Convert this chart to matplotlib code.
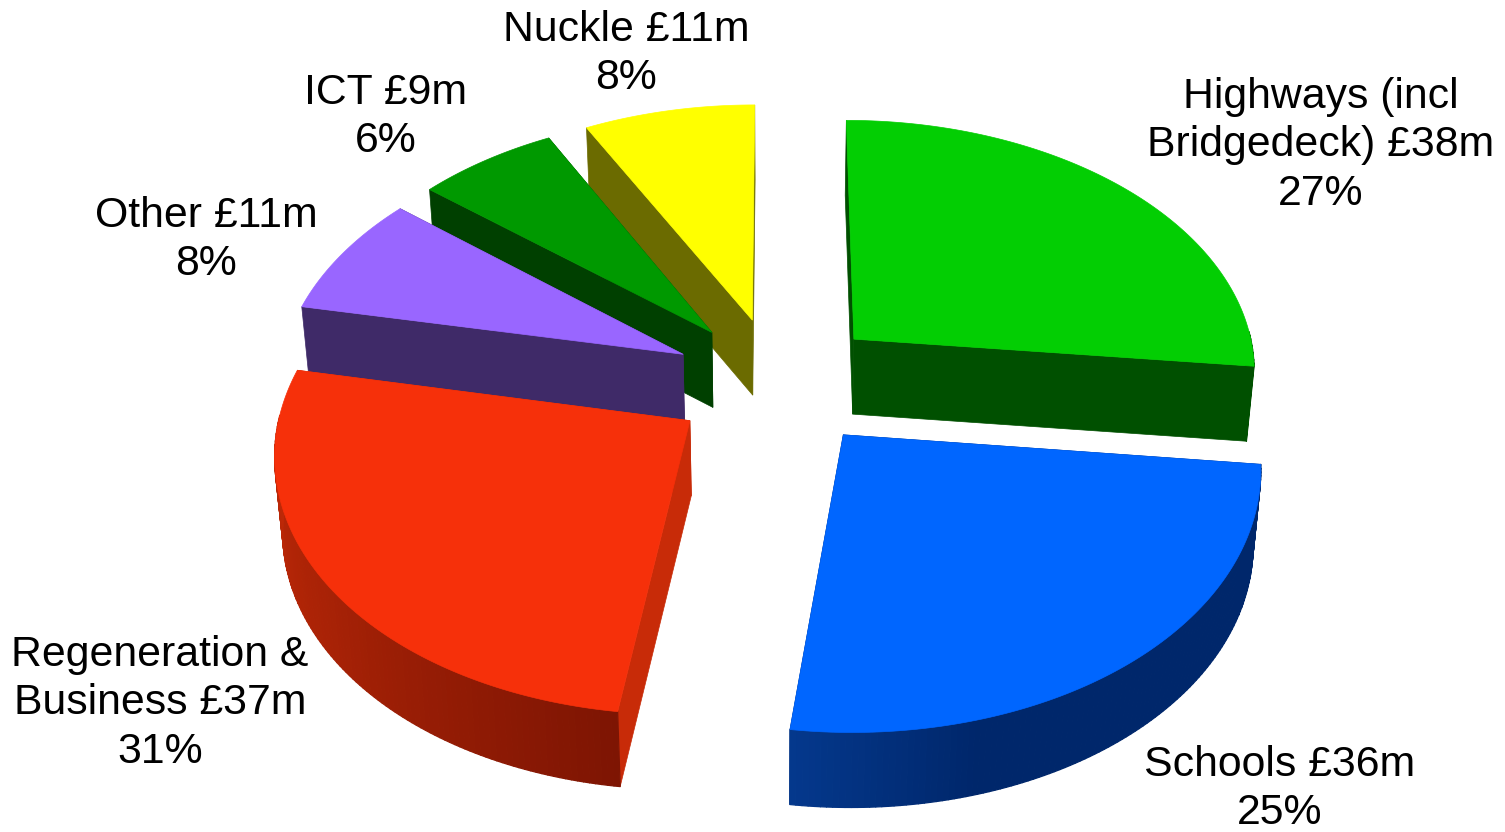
import numpy as np
import matplotlib
matplotlib.use("Agg")
import matplotlib.pyplot as plt
from matplotlib.collections import PolyCollection
from matplotlib.colors import to_rgb
from matplotlib.patches import Polygon

# Capital spend by area, clockwise from twelve o'clock
categories = ["Highways (incl\nBridgedeck)", "Schools", "Regeneration &\nBusiness", "Other", "ICT", "Nuckle"]
amounts_m = [38, 36, 37, 11, 9, 11]
percent_labels = [27, 25, 31, 8, 6, 8]

top_colours = ["#03CE03", "#0066FF", "#F6300A", "#9966FF", "#009900", "#FFFF00"]
side_colours = ["#005000", "#00276B", "#C82B08", "#3F2A68", "#004000", "#6B6B00"]
wall_stops = [["#005000", "#005000"],
              ["#00276B", "#00276B", "#00276B", "#00276B", "#04388C"],
              ["#7E1503", "#A82206", "#C82B08"],
              ["#3F2A68", "#3F2A68"],
              ["#004000", "#004000"],
              ["#6B6B00", "#6B6B00"]]
draw_order = [0, 5, 4, 3, 1, 2]

# Label anchors: x centre and top of the text block
label_x = [1321, 1280, 160, 206, 386, 626]
label_y = [77, 745, 635, 196, 73, 10]

# Perspective view of the pie plane
CX, CY = 777.0, 382.0
SCALE_X, SCALE_Y = 404.5, 252.0
PERSPECTIVE = 0.111
EXPLODE = 0.26
DEPTH = 75.0
BOTTOM_SHRINK = 0.016


def project(px, py, lower=False):
    w = 1 + PERSPECTIVE * py
    x = CX + SCALE_X * px / w
    y = CY - SCALE_Y * py / w
    if lower:
        x = CX + (x - CX) * (1 - BOTTOM_SHRINK)
        y = y + DEPTH
    return x, y


def blend(stops, t):
    rgb = np.array([to_rgb(c) for c in stops])
    pos = np.linspace(0, 1, len(stops))
    return [np.interp(t, pos, rgb[:, i]) for i in range(3)]


fig = plt.figure(figsize=(15.05, 8.32), dpi=100)
ax = fig.add_axes([0, 0, 1, 1])
ax.set_xlim(0, 1505)
ax.set_ylim(832, 0)
ax.axis("off")

fractions = np.array(amounts_m, dtype=float) / sum(amounts_m)
edges = np.concatenate([[0], np.cumsum(fractions)]) * 2 * np.pi

for i in draw_order:
    a0, a1 = edges[i], edges[i + 1]
    mid = (a0 + a1) / 2
    ox, oy = EXPLODE * np.sin(mid), EXPLODE * np.cos(mid)
    arc = np.linspace(a0, a1, 120)
    rx, ry = ox + np.sin(arc), oy + np.cos(arc)

    top_arc = np.column_stack(project(rx, ry))
    low_arc = np.column_stack(project(rx, ry, lower=True))
    apex_top = np.array(project(ox, oy))
    apex_low = np.array(project(ox, oy, lower=True))

    # Radial side faces
    for j in (0, -1):
        ax.add_patch(Polygon([apex_top, top_arc[j], low_arc[j], apex_low],
                             closed=True, fc=side_colours[i], ec=side_colours[i], lw=0.5))

    # Outer wall, shaded along the arc; only the part facing the viewer is drawn
    quads, shades = [], []
    for k in range(len(arc) - 1):
        if np.cos(arc[k]) < 0.02 or np.cos(arc[k + 1]) < 0.02:
            quads.append([top_arc[k], top_arc[k + 1], low_arc[k + 1], low_arc[k]])
            shades.append(blend(wall_stops[i], k / (len(arc) - 2)))
    if quads:
        ax.add_collection(PolyCollection(quads, facecolors=shades, edgecolors=shades, linewidths=0.9))

    # Top surface
    ax.add_patch(Polygon(np.vstack([apex_top, top_arc]), closed=True,
                         fc=top_colours[i], ec=top_colours[i], lw=0.5))

for name, amount, pct, x, y in zip(categories, amounts_m, percent_labels, label_x, label_y):
    ax.text(x, y, f"{name} £{amount}m\n{pct}%", ha="center", va="top",
            family="Liberation Sans", fontsize=30.8, color="black", linespacing=1.27)

fig.savefig("out.png", dpi=100, facecolor="white")
